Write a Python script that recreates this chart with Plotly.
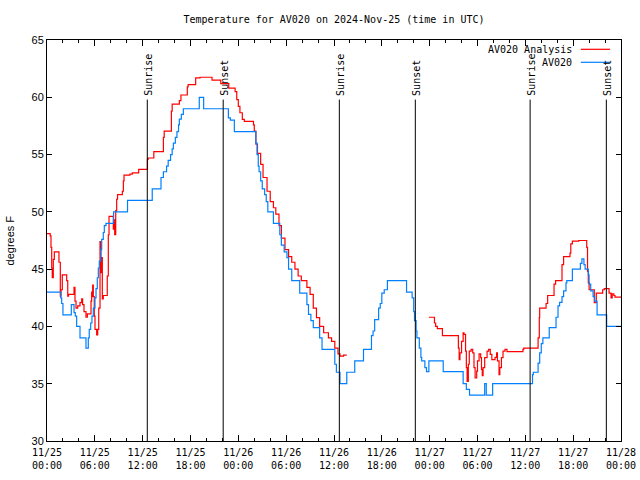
import pandas as pd
import plotly.graph_objects as go

BASE = "2024-11-25 00:00"

# Observations (AV020): hours since 11/25 00:00 UTC, degrees F
obs_hours = [0, 1.72, 1.84, 2.0, 3.05, 3.39, 3.55, 3.72, 4.14, 4.89, 5.18, 5.3, 5.48, 5.64, 5.81,
             6.02, 6.15, 6.31, 6.44, 6.56, 6.73, 6.86, 7.06, 7.19, 7.4, 8.35, 10.1, 13.2, 14.3,
             14.6, 15.0, 15.2, 15.5, 15.7, 15.85, 16.1, 16.3, 16.5, 16.6, 16.85, 17.1, 19.1, 19.65,
             22.75, 23.0, 23.5, 26.2, 26.35, 26.5, 26.6, 26.8, 27.0, 27.3, 27.5, 27.7, 28.4, 29.2,
             29.4, 29.75, 30.1, 30.3, 30.7, 31.7, 32.6, 32.8, 33.1, 33.4, 34.2, 34.5, 36.1, 36.3,
             36.75, 37.6, 38.6, 39.7, 40.7, 40.9, 41.1, 41.6, 41.8, 42.0, 42.3, 42.7, 45.1, 45.8,
             46.0, 46.1, 46.3, 46.4, 46.7, 46.9, 47.0, 47.4, 47.6, 47.9, 49.7, 52.2, 52.6, 53.0,
             54.9, 55.1, 55.9, 60.9, 61.0, 61.6, 61.8, 62.0, 62.2, 63.0, 63.85, 64.1, 64.3, 64.6,
             64.8, 65.1, 65.2, 65.9, 66.9, 67.1, 67.35, 67.5, 67.9, 68.0, 68.2, 68.5, 68.7, 69.0,
             70.2, 72.0]
obs_temps = [43.0, 42.5, 42.0, 41.0, 41.9, 41.2, 40.9, 40.0, 39.0, 38.1, 39.0, 39.75, 40.3, 40.9, 41.6,
             42.5, 43.3, 44.25, 45.1, 45.7, 46.7, 47.6, 48.2, 48.8, 49.0, 50.0, 51.0, 52.0, 53.0,
             53.5, 54.0, 54.5, 55.0, 55.5, 56.0, 56.5, 57.0, 57.6, 58.1, 58.5, 59.0, 60.0, 59.0,
             58.2, 58.0, 57.0, 56.0, 55.0, 54.0, 53.5, 52.7, 52.0, 51.5, 50.9, 50.0, 49.0, 48.0,
             47.1, 46.5, 46.0, 45.0, 44.0, 42.9, 41.9, 41.05, 40.5, 39.9, 39.0, 38.0, 36.7, 36.0,
             35.0, 36.0, 37.0, 38.0, 39.2, 39.6, 40.6, 41.6, 42.0, 42.9, 43.2, 44.0, 43.0, 42.5,
             41.3, 40.5, 39.6, 39.0, 38.1, 37.3, 37.0, 36.4, 36.05, 37.0, 36.05, 35.0, 34.5, 34.0,
             35.0, 34.0, 35.0, 35.8, 36.0, 36.8, 37.7, 38.5, 39.0, 39.9, 40.8, 41.8, 42.1, 42.6,
             43.1, 43.8, 44.0, 45.0, 45.5, 45.9, 45.4, 45.0, 44.5, 43.7, 43.1, 42.6, 42.2, 41.0,
             40.0, 40.0]

# Analysis (AV020 Analysis), two segments with a gap
ana1_hours = [0, 0.4, 0.5, 0.59, 0.66, 0.79, 0.92, 1.5, 1.67, 1.76, 1.92, 2.47, 2.6, 2.7, 3.39,
              3.51, 3.64, 3.85, 4.14, 4.35, 4.47, 4.64, 4.89, 5.06, 5.52, 5.6, 5.68, 5.73, 5.81,
              5.93, 6.02, 6.23, 6.36, 6.49, 6.65, 6.77, 6.86, 6.94, 7.06, 7.56, 7.69, 7.78, 8.32,
              8.4, 8.49, 8.62, 8.74, 8.85, 9.45, 9.58, 9.66, 10.4, 10.7, 11.5, 12.6, 12.7, 13.4,
              14.6, 14.7, 15.6, 15.7, 16.6, 16.8, 17.6, 17.7, 18.65, 19.2, 20.7, 21.8, 22.8, 23.6,
              23.8, 24.0, 24.2, 24.5, 24.75, 25.9, 26.0, 26.2, 26.4, 26.8, 27.1, 27.6, 28.0, 28.4,
              28.7, 29.1, 29.4, 29.85, 30.3, 30.7, 31.1, 31.5, 31.9, 32.6, 33.0, 33.4, 33.8, 34.2,
              34.7, 35.3, 35.7, 36.1, 36.5, 36.75, 37.2, 37.6]
ana1_temps = [48.1, 47.9, 46.9, 45.1, 44.25, 45.85, 46.5, 45.6, 42.65, 43.2, 44.5, 44.0, 42.65, 42.8, 43.4,
              42.2, 41.6, 41.8, 42.07, 42.4, 41.9, 41.3, 40.8, 41.1, 42.2, 43.0, 42.6, 43.6, 42.6,
              40.9, 39.75, 39.25, 39.75, 41.6, 47.4, 44.7, 46.0, 42.4, 42.7, 44.4, 48.0, 49.6, 48.5,
              49.3, 48.0, 50.1, 51.1, 51.5, 51.8, 52.7, 53.2, 53.3, 53.4, 53.7, 54.6, 54.7, 55.25,
              56.5, 57.05, 58.8, 59.4, 59.7, 60.2, 60.9, 61.1, 61.7, 61.75, 61.5, 61.2, 60.8, 60.5,
              59.8, 59.2, 58.65, 58.07, 57.9, 57.6, 57.05, 55.9, 55.1, 54.15, 53.0, 51.8, 50.9, 50.36,
              49.8, 48.8, 47.7, 46.7, 46.1, 45.6, 45.0, 44.4, 44.0, 43.4, 42.8, 41.6, 40.76, 40.0,
              39.45, 39.0, 38.7, 38.1, 37.6, 37.4, 37.5, 37.5]
ana2_hours = [47.9, 48.6, 48.75, 48.96, 49.6, 51.6, 51.7, 51.8, 52.0, 52.2, 52.3, 52.5, 52.6, 52.7,
              52.85, 52.97, 53.2, 53.4, 53.56, 53.7, 53.9, 54.0, 54.2, 54.4, 54.5, 54.6, 54.7, 54.9,
              55.2, 55.4, 55.6, 55.8, 56.2, 56.4, 56.5, 56.7, 56.8, 57.0, 57.2, 57.45, 57.7, 59.7,
              59.8, 61.6, 61.75, 61.8, 62.6, 62.8, 63.6, 63.8, 64.6, 64.8, 65.6, 65.7, 65.9, 66.7,
              67.7, 67.8, 67.9, 68.0, 68.65, 68.9, 69.7, 69.9, 70.5, 70.75, 70.9, 71.1, 71.25, 72.0]
ana2_temps = [40.8, 40.3, 40.0, 39.8, 39.2, 38.1, 37.1, 37.7, 38.7, 39.45, 39.3, 37.85, 36.4, 35.2,
              36.7, 37.85, 38.0, 37.7, 36.4, 35.5, 36.1, 37.0, 37.6, 37.27, 36.25, 35.7, 36.4, 37.27,
              37.85, 38.0, 37.56, 37.1, 37.3, 37.7, 37.0, 35.8, 36.4, 37.27, 37.85, 38.0, 37.8, 38.0,
              38.1, 39.0, 40.76, 41.6, 42.0, 42.7, 43.7, 44.0, 45.4, 46.1, 46.4, 47.2, 47.45, 47.5,
              46.9, 44.8, 43.8, 43.2, 42.07, 42.9, 43.2, 43.3, 42.9, 42.5, 42.85, 42.7, 42.56, 42.56]

# Sun events
event_hours = [12.58, 22.1, 36.67, 46.2, 60.6, 70.16]
event_labels = ["Sunrise", "Sunset", "Sunrise", "Sunset", "Sunrise", "Sunset"]
event_top = 59.8

tick_hours = [0, 6, 12, 18, 24, 30, 36, 42, 48, 54, 60, 66, 72]
tick_labels = ["11/25<br>00:00", "11/25<br>06:00", "11/25<br>12:00", "11/25<br>18:00",
               "11/26<br>00:00", "11/26<br>06:00", "11/26<br>12:00", "11/26<br>18:00",
               "11/27<br>00:00", "11/27<br>06:00", "11/27<br>12:00", "11/27<br>18:00",
               "11/28<br>00:00"]

base = pd.Timestamp(BASE)
def tt(hours):
    return [base + pd.Timedelta(hours=h) for h in hours]

RED = "#ff0000"
BLUE = "#0080ff"
MONO = "DejaVu Sans Mono"

fig = go.Figure()
fig.add_trace(go.Scatter(x=tt(ana1_hours), y=ana1_temps, mode="lines", line=dict(color=RED, width=1.2, shape="hv"),
                         showlegend=False))
fig.add_trace(go.Scatter(x=tt(ana2_hours), y=ana2_temps, mode="lines", line=dict(color=RED, width=1.2, shape="hv"),
                         showlegend=False))
fig.add_trace(go.Scatter(x=tt(obs_hours), y=obs_temps, mode="lines", line=dict(color=BLUE, width=1.2, shape="hv"),
                         showlegend=False))

shapes = []
annotations = []
for h, lab in zip(event_hours, event_labels):
    t = base + pd.Timedelta(hours=h)
    shapes.append(dict(type="line", xref="x", yref="y", x0=t, x1=t, y0=30, y1=event_top,
                       line=dict(color="black", width=1)))
    annotations.append(dict(x=t, y=event_top, xref="x", yref="y", text=lab, textangle=-90,
                            showarrow=False, xanchor="center", yanchor="bottom", yshift=2, xshift=1,
                            font=dict(family=MONO, size=10, color="black")))

# manual legend (gnuplot style: text then sample line)
legend_items = [("AV020 Analysis", RED, 0.9768), ("AV020", BLUE, 0.9444)]
for text, col, yp in legend_items:
    annotations.append(dict(x=0.918, y=yp, xref="paper", yref="paper", text=text, showarrow=False,
                            xanchor="right", yanchor="middle", font=dict(family=MONO, size=10, color="black")))
    shapes.append(dict(type="line", xref="paper", yref="paper", x0=0.930, x1=0.981, y0=yp, y1=yp,
                       line=dict(color=col, width=1.2)))

annotations.append(dict(x=-0.0645, y=0.5, xref="paper", yref="paper", text="degrees F", textangle=-90,
                        showarrow=False, xanchor="center", yanchor="middle",
                        font=dict(family="Liberation Sans", size=11, color="black")))

fig.update_layout(
    width=640, height=480,
    margin=dict(l=47, r=19, t=40, b=39),
    paper_bgcolor="white", plot_bgcolor="white",
    title=dict(text="Temperature for AV020 on 2024-Nov-25 (time in UTC)", x=0.5, xref="paper",
               y=1 - 19 / 480, yref="container", xanchor="center", yanchor="middle",
               font=dict(family=MONO, size=10, color="black")),
    shapes=shapes, annotations=annotations, showlegend=False,
)
fig.update_xaxes(range=[base, base + pd.Timedelta(hours=72)], tickvals=tt(tick_hours), ticktext=tick_labels,
                 automargin=False, ticklabelstandoff=2,
                 ticks="inside", ticklen=6, tickcolor="black", showline=True, linecolor="black", linewidth=1,
                 mirror="ticks", showgrid=False, zeroline=False,
                 tickfont=dict(family=MONO, size=10, color="black"),
                 minor=dict(tickvals=tt([h for h in range(0, 73, 2)]), ticks="inside", ticklen=3,
                            tickcolor="black", showgrid=False))
fig.update_yaxes(range=[30, 65], dtick=5, tick0=30, ticks="inside", ticklen=5, tickcolor="black",
                 automargin=False,
                 showline=True, linecolor="black", linewidth=1, mirror="ticks", showgrid=False, zeroline=False,
                 tickfont=dict(family="Liberation Sans", size=11, color="black"))

fig.write_html("out.html", config={"displayModeBar": False},
               post_script="document.body.style.margin='0';")
